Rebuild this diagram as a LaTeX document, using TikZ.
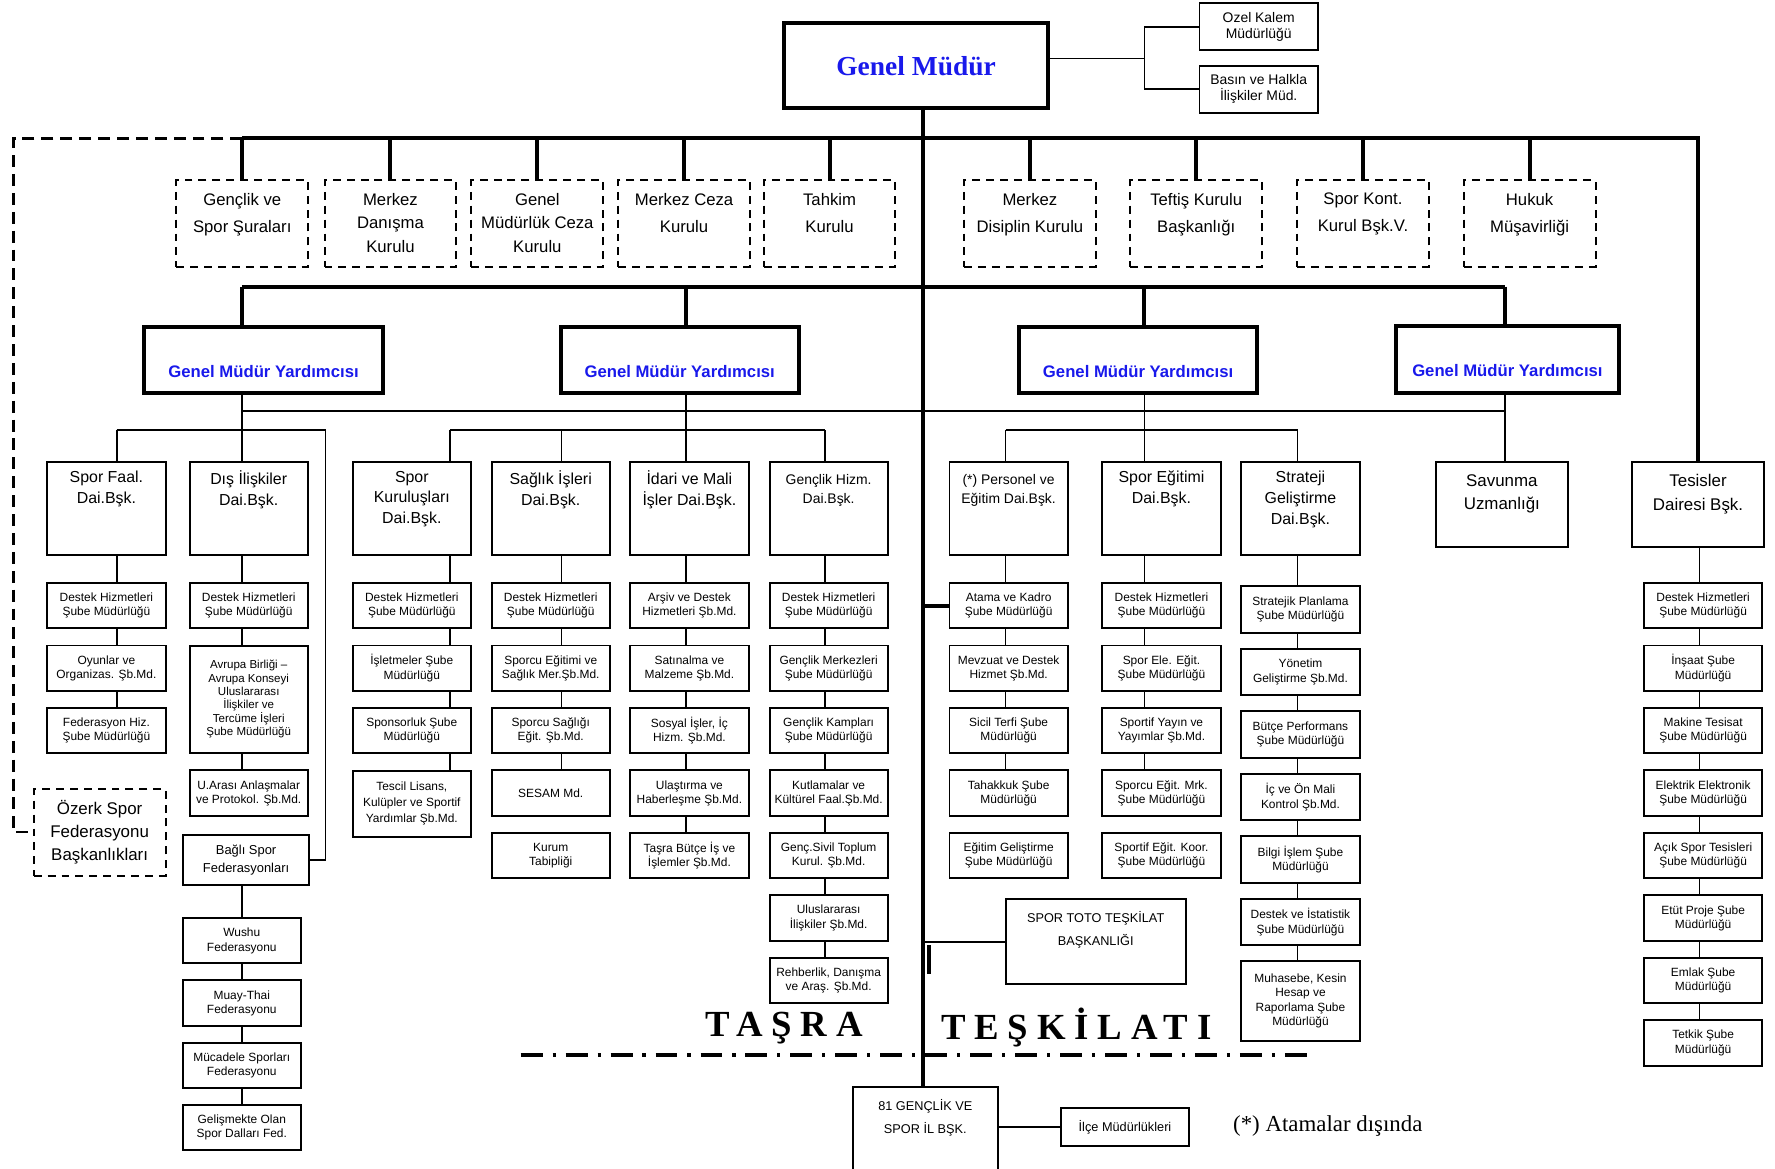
\documentclass[tikz,border=0pt]{standalone}
\usepackage{fontspec}
\setmainfont{Liberation Serif}
\setsansfont{Liberation Sans}
\definecolor{gmblue}{RGB}{25,25,235}

% yazi tipleri
\newcommand\fgm{\rmfamily\bfseries\fontsize{13.8}{16}\selectfont}
\newcommand\foz{\sffamily\fontsize{7}{8}\selectfont}
\newcommand\fkurul{\sffamily\fontsize{8.4}{13.7}\selectfont}
\newcommand\fkurulk{\sffamily\fontsize{8.4}{11.8}\selectfont}
\newcommand\fgmy{\sffamily\bfseries\fontsize{8.4}{10}\selectfont}
\newcommand\fdaire{\sffamily\fontsize{8}{10.5}\selectfont}
\newcommand\fdairek{\sffamily\fontsize{7}{9.7}\selectfont}
\newcommand\fdaireb{\sffamily\fontsize{8.5}{11.7}\selectfont}
\newcommand\fsube{\sffamily\fontsize{6}{7.2}\selectfont}
\newcommand\fsubek{\sffamily\fontsize{5.8}{6.7}\selectfont}
\newcommand\fbagli{\sffamily\fontsize{6.5}{8.7}\selectfont}
\newcommand\ftoto{\sffamily\fontsize{6.4}{11.6}\selectfont}
\newcommand\ftasra{\rmfamily\bfseries\fontsize{18.5}{20}\selectfont\addfontfeatures{LetterSpace=24}}
\newcommand\fnot{\rmfamily\fontsize{11.5}{13}\selectfont}

\tikzset{
  bar/.style={line width=2pt},
  conn/.style={line width=0.8pt},
  dlink/.style={line width=1.2pt, dash pattern=on 6pt off 3.5pt},
  cutline/.style={line width=1.6pt, dash pattern=on 11pt off 5pt on 1.6pt off 5pt},
  gmbox/.style={draw, line width=2pt, minimum width=4.68cm, minimum height=1.5cm, font=\fgm, text=gmblue},
  ozbox/.style={draw, line width=0.9pt, minimum width=2.09cm, minimum height=0.83cm, align=center, font=\foz, inner sep=1pt},
  kurbox/.style={draw, dash pattern=on 4pt off 3pt, line width=1pt, minimum width=2.33cm, minimum height=1.53cm},
  kurtxt/.style={anchor=north, align=center, font=\fkurul, inner sep=0pt, yshift=-6.8pt},
  gmybox/.style={draw, line width=2pt, minimum width=4.21cm, minimum height=1.18cm},
  gmytxt/.style={font=\fgmy, text=gmblue, inner sep=0pt, yshift=-5.7pt},
  daibox/.style={draw, line width=1pt, minimum width=2.09cm, minimum height=1.65cm},
  daitxt/.style={anchor=north, align=center, font=\fdaire, inner sep=0pt, yshift=-5pt},
  subebox/.style={draw, line width=1pt, minimum width=2.09cm, minimum height=0.8cm, align=center, font=\fsube, inner sep=1pt},
  tototxt/.style={anchor=north, align=center, font=\ftoto, inner sep=0pt, yshift=-6.6pt},
  tasratxt/.style={anchor=west, font=\ftasra, inner sep=0pt}
}

\begin{document}
\begin{tikzpicture}[x=0.02cm, y=-0.02cm]
\useasboundingbox (0,0) rectangle (1568,1032);

% hat noktalari
\coordinate (tr) at (815.2,0);
\coordinate (tb) at (0,122.2);
\coordinate (sb) at (0,253.3);
\coordinate (gk) at (1010.9,51.5);
\coordinate (dz) at (11.8,122.2);
\coordinate (hl1) at (213.7,363);
\coordinate (hl2) at (1329.6,363);
\coordinate (ka) at (103.1,380);
\coordinate (kb) at (213.7,380);
\coordinate (kbr) at (287.4,380);
\coordinate (kc) at (397.3,380);
\coordinate (kd) at (496,380);
\coordinate (ke) at (606,380);
\coordinate (kf) at (728.8,380);
\coordinate (kg) at (888.4,380);
\coordinate (kh) at (1011,380);
\coordinate (ki) at (1146.2,380);
\coordinate (kj) at (1329.6,380);
\coordinate (kk) at (1501.3,380);
\coordinate (cut1) at (460,932);
\coordinate (cut2) at (1157,932);

% Genel Mudur
\node[gmbox] (gm) at (809.2,58.2) {Genel Müdür};
\node[ozbox] (ozel) at (1111.9,23.6) {Ozel Kalem\\Müdürlüğü};
\node[ozbox] (basin) at (1111.9,78.8) {Basın ve Halkla\\İlişkiler Müd.};

% kurullar
\node[kurbox, label={[kurtxt]north:Gençlik ve\\Spor Şuraları}] (kur1) at (214,197.3) {};
\node[kurbox, label={[kurtxt, font=\fkurulk]north:Merkez\\Danışma\\Kurulu}] (kur2) at (344.9,197.3) {};
\node[kurbox, label={[kurtxt, font=\fkurulk]north:Genel\\Müdürlük Ceza\\Kurulu}] (kur3) at (474.7,197.3) {};
\node[kurbox, label={[kurtxt]north:Merkez Ceza\\Kurulu}] (kur4) at (604.3,197.3) {};
\node[kurbox, label={[kurtxt]north:Tahkim\\Kurulu}] (kur5) at (732.8,197.3) {};
\node[kurbox, label={[kurtxt]north:Merkez\\Disiplin Kurulu}] (kur6) at (909.8,197.3) {};
\node[kurbox, label={[kurtxt]north:Teftiş Kurulu\\Başkanlığı}] (kur7) at (1056.7,197.3) {};
\node[kurbox, label={[kurtxt]north:Spor Kont.\\Kurul Bşk.V.}] (kur8) at (1204,197.3) {};
\node[kurbox, label={[kurtxt]north:Hukuk\\Müşavirliği}] (kur9) at (1351.2,197.3) {};

% genel mudur yardimcilari
\node[gmybox, label={[gmytxt]center:Genel Müdür Yardımcısı}] (gmy1) at (232.8,318) {};
\node[gmybox, label={[gmytxt]center:Genel Müdür Yardımcısı}] (gmy2) at (600.4,318) {};
\node[gmybox, label={[gmytxt]center:Genel Müdür Yardımcısı}] (gmy3) at (1005.4,318) {};
\node[gmybox, minimum width=3.95cm, label={[gmytxt]center:Genel Müdür Yardımcısı}] (gmy4) at (1331.6,317.5) {};

% daire baskanliklari
\node[daibox, label={[daitxt]north:Spor Faal.\\Dai.Bşk.}] (fa) at (94,449) {};
\node[daibox, label={[daitxt]north:Dış İlişkiler\\Dai.Bşk.}] (di) at (219.7,449) {};
\node[daibox, label={[daitxt]north:Spor\\Kuruluşları\\Dai.Bşk.}] (sk) at (363.8,449) {};
\node[daibox, label={[daitxt]north:Sağlık İşleri\\Dai.Bşk.}] (sa) at (486.5,449) {};
\node[daibox, label={[daitxt]north:İdari ve Mali\\İşler Dai.Bşk.}] (im) at (609,449) {};
\node[daibox, label={[daitxt, font=\fdairek, yshift=-1.7pt]north:Gençlik Hizm.\\Dai.Bşk.}] (gh) at (732,449) {};
\node[daibox, label={[daitxt, font=\fdairek, yshift=-1.7pt]north:(*) Personel ve\\Eğitim Dai.Bşk.}] (pe) at (891,449) {};
\node[daibox, label={[daitxt]north:Spor Eğitimi\\Dai.Bşk.}] (se) at (1026,449) {};
\node[daibox, label={[daitxt]north:Strateji\\Geliştirme\\Dai.Bşk.}] (st) at (1148.8,449) {};
\node[daibox, minimum width=2.33cm, minimum height=1.5cm, label={[daitxt, font=\fdaireb, yshift=-1.7pt]north:Savunma\\Uzmanlığı}] (sav) at (1326.7,445.4) {};
\node[daibox, minimum width=2.33cm, minimum height=1.5cm, label={[daitxt, font=\fdaireb, yshift=-1.7pt]north:Tesisler\\Dairesi Bşk.}] (te) at (1500,445.4) {};

% sube mudurlukleri
\foreach \txt [count=\i] in {{Destek Hizmetleri\\Şube Müdürlüğü},{Oyunlar ve\\Organizas. Şb.Md.},{Federasyon Hiz.\\Şube Müdürlüğü}}
  \node[subebox] (fa\i) at (94,{535+55.2*(\i-1)}) {\txt};
\node[kurbox, align=center, font=\fdaireb] (ozerk) at (88,735.2) {Özerk Spor\\Federasyonu\\Başkanlıkları};

\node[subebox] (di1) at (219.7,535) {Destek Hizmetleri\\Şube Müdürlüğü};
\node[subebox, minimum height=1.89cm, font=\fsubek] (di2) at (219.7,617.7) {Avrupa Birliği –\\Avrupa Konseyi\\Uluslararası\\İlişkiler ve\\Tercüme İşleri\\Şube Müdürlüğü};
\node[subebox] (di3) at (219.7,700.6) {U.Arası Anlaşmalar\\ve Protokol. Şb.Md.};
\node[subebox, minimum width=2.23cm, minimum height=0.88cm, font=\fbagli] (bagli) at (217.4,759.7) {Bağlı Spor\\Federasyonları};
\foreach \txt [count=\i] in {{Wushu\\Federasyonu},{Muay-Thai\\Federasyonu},{Mücadele Sporları\\Federasyonu},{Gelişmekte Olan\\Spor Dalları Fed.}}
  \node[subebox, minimum width=2.08cm] (fed\i) at (213.6,{831.1+55*(\i-1)}) {\txt};

\foreach \txt [count=\i] in {{Destek Hizmetleri\\Şube Müdürlüğü},{İşletmeler Şube\\Müdürlüğü},{Sponsorluk Şube\\Müdürlüğü}}
  \node[subebox] (sk\i) at (363.8,{535+55.2*(\i-1)}) {\txt};
\node[subebox, minimum height=1.17cm, font=\sffamily\fontsize{6}{8}\selectfont] (sk4) at (363.8,710) {Tescil Lisans,\\Kulüpler ve Sportif\\Yardımlar Şb.Md.};

\foreach \txt [count=\i] in {{Destek Hizmetleri\\Şube Müdürlüğü},{Sporcu Eğitimi ve\\Sağlık Mer.Şb.Md.},{Sporcu Sağlığı\\Eğit. Şb.Md.},{SESAM Md.},{Kurum\\Tabipliği}}
  \node[subebox] (sa\i) at (486.5,{535+55.2*(\i-1)}) {\txt};

\foreach \txt [count=\i] in {{Arşiv ve Destek\\Hizmetleri Şb.Md.},{Satınalma ve\\Malzeme Şb.Md.},{Sosyal İşler, İç\\Hizm. Şb.Md.},{Ulaştırma ve\\Haberleşme Şb.Md.},{Taşra Bütçe İş ve\\İşlemler Şb.Md.}}
  \node[subebox] (im\i) at (609,{535+55.2*(\i-1)}) {\txt};

\foreach \txt [count=\i] in {{Destek Hizmetleri\\Şube Müdürlüğü},{Gençlik Merkezleri\\Şube Müdürlüğü},{Gençlik Kampları\\Şube Müdürlüğü},{Kutlamalar ve\\Kültürel Faal.Şb.Md.},{Genç.Sivil Toplum\\Kurul. Şb.Md.},{Uluslararası\\İlişkiler Şb.Md.},{Rehberlik, Danışma\\ve Araş. Şb.Md.}}
  \node[subebox] (gh\i) at (732,{535+55.2*(\i-1)}) {\txt};

\foreach \txt [count=\i] in {{Atama ve Kadro\\Şube Müdürlüğü},{Mevzuat ve Destek\\Hizmet Şb.Md.},{Sicil Terfi Şube\\Müdürlüğü},{Tahakkuk Şube\\Müdürlüğü},{Eğitim Geliştirme\\Şube Müdürlüğü}}
  \node[subebox] (pe\i) at (891,{535+55.2*(\i-1)}) {\txt};

\foreach \txt [count=\i] in {{Destek Hizmetleri\\Şube Müdürlüğü},{Spor Ele. Eğit.\\Şube Müdürlüğü},{Sportif Yayın ve\\Yayımlar Şb.Md.},{Sporcu Eğit. Mrk.\\Şube Müdürlüğü},{Sportif Eğit. Koor.\\Şube Müdürlüğü}}
  \node[subebox] (se\i) at (1026,{535+55.2*(\i-1)}) {\txt};

\foreach \txt [count=\i] in {{Stratejik Planlama\\Şube Müdürlüğü},{Yönetim\\Geliştirme Şb.Md.},{Bütçe Performans\\Şube Müdürlüğü},{İç ve Ön Mali\\Kontrol Şb.Md.},{Bilgi İşlem Şube\\Müdürlüğü},{Destek ve İstatistik\\Şube Müdürlüğü}}
  \node[subebox, minimum height=0.82cm] (st\i) at (1148.8,{538.5+55.2*(\i-1)}) {\txt};
\node[subebox, minimum height=1.41cm] (st7) at (1148.8,884.3) {Muhasebe, Kesin\\Hesap ve\\Raporlama Şube\\Müdürlüğü};

\foreach \txt [count=\i] in {{Destek Hizmetleri\\Şube Müdürlüğü},{İnşaat Şube\\Müdürlüğü},{Makine Tesisat\\Şube Müdürlüğü},{Elektrik Elektronik\\Şube Müdürlüğü},{Açık Spor Tesisleri\\Şube Müdürlüğü},{Etüt Proje Şube\\Müdürlüğü},{Emlak Şube\\Müdürlüğü},{Tetkik Şube\\Müdürlüğü}}
  \node[subebox] (te\i) at (1504.5,{535+55.2*(\i-1)}) {\txt};

% spor toto ve tasra
\node[subebox, minimum width=3.18cm, minimum height=1.51cm, label={[tototxt]north:SPOR TOTO TEŞKİLAT\\BAŞKANLIĞI}] (toto) at (967.9,831.9) {};
\node[subebox, minimum width=2.57cm, minimum height=1.6cm, label={[tototxt]north:81 GENÇLİK VE\\SPOR İL BŞK.}] (il81) at (817.4,1000) {};
\node[subebox, minimum width=2.25cm, minimum height=0.68cm, font=\ftoto] (ilce) at (993.8,995.5) {İlçe Müdürlükleri};
\node[tasratxt] (tasra) at (623,908) {TAŞRA};
\node[tasratxt] (teskilat) at (831,908) {TEŞKİLATI};
\node[anchor=west, font=\fnot, inner sep=0pt] (dipnot) at (1089,995) {(*) Atamalar dışında};

% kalin hatlar
\draw[bar] (gm.south -| tr) -- (il81.north -| tr);
\draw[bar] (kur1.north |- tb) -| (te.north);
\foreach \n in {1,...,9} \draw[bar] (kur\n.north |- tb) -- (kur\n.north);
\draw[bar] (kb |- sb) -- (kj |- sb);
\foreach \k/\g in {kb/gmy1,ke/gmy2,kh/gmy3,kj/gmy4} \draw[bar] (\k |- sb) -- (\g.north -| \k);
\draw[bar] (tr |- pe1.west) -- (pe1.west);
\draw[bar] (820.5,835) -- (820.5,860);

% ince hatlar
\draw[conn] (gm.east |- gk) -- (gk);
\draw[conn] (ozel.west) -| (gk) |- (basin.west);
\draw[conn] (hl1) -- (hl2);
\draw[conn] (gmy1.south -| kb) -- (di.north -| kb);
\draw[conn] (gmy2.south -| ke) -- (im.north -| ke);
\draw[conn] (gmy3.south -| kh) -- (se.north -| kh);
\draw[conn] (gmy4.south -| kj) -- (sav.north -| kj);
\draw[conn] (ka) -- (kbr) |- (bagli.east);
\draw[conn] (kc) -- (kf);
\draw[conn] (kg) -- (ki);
\foreach \k/\n in {ka/fa,kc/sk,kd/sa,kf/gh,kg/pe,ki/st} \draw[conn] (\k) -- (\n.north -| \k);
\foreach \col/\kx/\nn in {fa/ka/3,di/kb/3,sk/kc/4,sa/kd/4,im/ke/5,gh/kf/7,pe/kg/4,se/kh/4,st/ki/7,te/kk/8}{
  \draw[conn] (\col.south -| \kx) -- (\col1.north -| \kx);
  \foreach \i [evaluate=\i as \j using int(\i-1)] in {2,...,\nn}
    \draw[conn] (\col\j.south -| \kx) -- (\col\i.north -| \kx);
}
\draw[conn] (bagli.south -| kb) -- (fed1.north -| kb);
\foreach \i [evaluate=\i as \j using int(\i-1)] in {2,3,4} \draw[conn] (fed\j.south -| kb) -- (fed\i.north -| kb);
\draw[conn] (tr |- toto.west) -- (toto.west);
\draw[conn] (il81.east |- ilce.west) -- (ilce.west);

% ozerk baglantisi ve tasra cizgisi
\draw[dlink] (kur1.north |- tb) -- (dz) |- (ozerk.west);
\draw[cutline] (cut1) -- (cut2);
\end{tikzpicture}
\end{document}
